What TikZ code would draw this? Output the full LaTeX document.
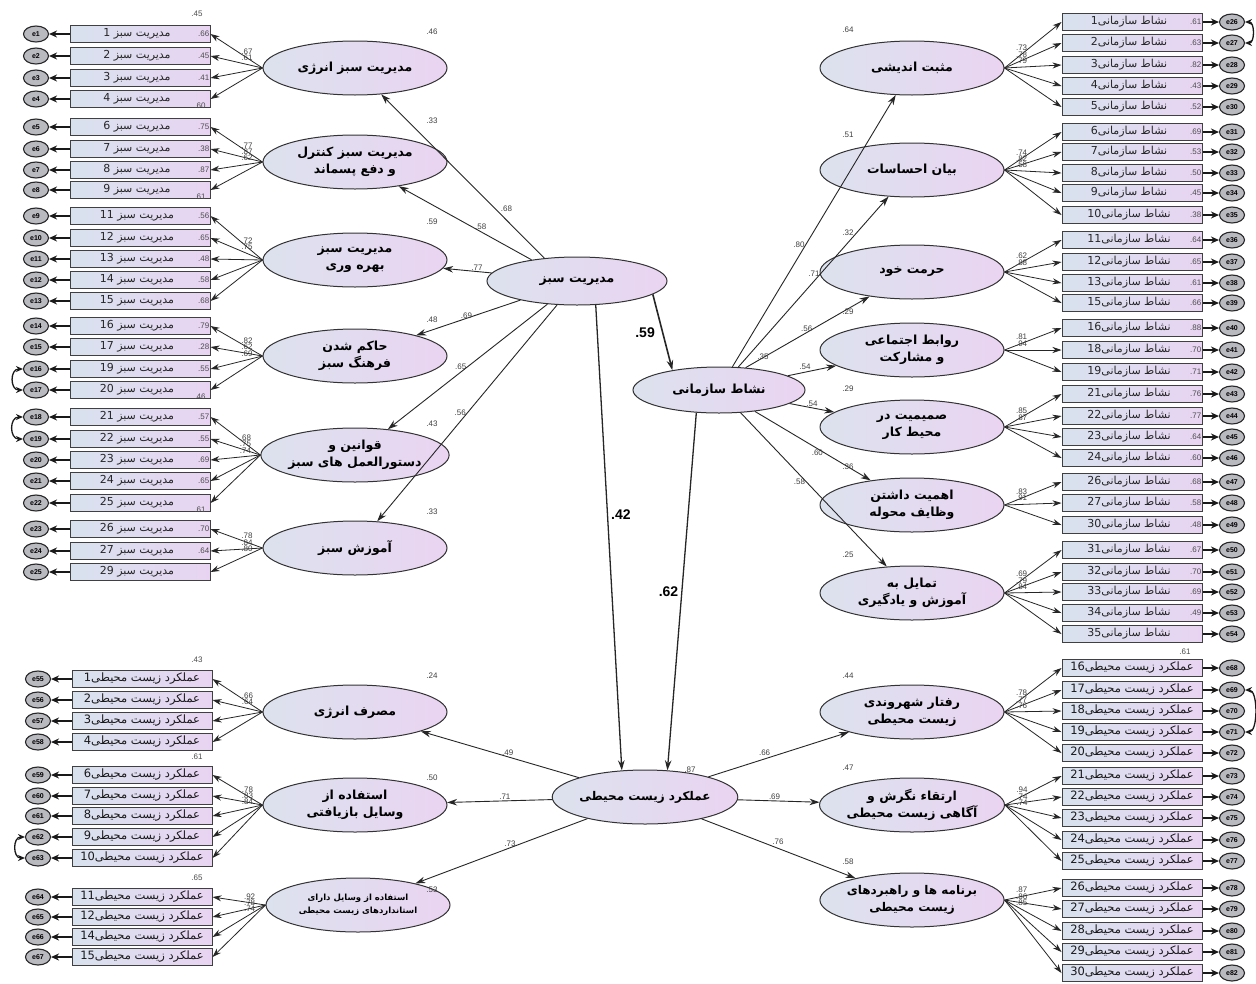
\documentclass[tikz,border=0pt]{standalone}
\usepackage{fontspec}
\setmainfont{Liberation Sans}
\newfontfamily\fa[Script=Arabic]{DejaVu Sans}
\TeXXeTstate=1
\usetikzlibrary{arrows.meta,shapes.geometric}
\definecolor{latL}{RGB}{220,226,238}
\definecolor{latR}{RGB}{234,212,242}
\definecolor{obsL}{RGB}{216,226,238}
\definecolor{obsR}{RGB}{232,212,242}
\definecolor{errF}{RGB}{185,185,192}
\tikzset{
  lat/.style={ellipse, draw=black!80, line width=1pt, left color=latL, right color=latR,
    minimum width=184, minimum height=54, inner sep=0pt, align=center,
    font=\fa\bfseries\fontsize{12.5}{17}\selectfont},
  obs/.style={rectangle, draw=black!75, line width=1pt, left color=obsL, right color=obsR,
    minimum width=140, minimum height=17, inner sep=0pt},
  boxtxt/.style={inner sep=0pt, font=\fa\fontsize{11}{11}\selectfont, text=black!85},
  boxtxtb/.style={inner sep=0pt, font=\fa\fontsize{11.5}{12}\selectfont, text=black!90},
  err/.style={ellipse, draw=black!85, line width=1.1pt, fill=errF, minimum width=25,
    minimum height=16, inner sep=0pt, font=\bfseries\fontsize{7}{7}\selectfont},
  larr/.style={draw=black!85, line width=0.8pt, -{Stealth[length=9pt,width=6pt]}},
  sarr/.style={draw=black!85, line width=0.9pt, -{Stealth[length=10pt,width=6.5pt]}},
  earr/.style={draw=black!90, line width=1.3pt, -{Stealth[length=8pt,width=7pt]}},
  carr/.style={draw=black!90, line width=1.3pt, {Stealth[length=7pt,width=6pt]}-{Stealth[length=7pt,width=6pt]}},
  val/.style={inner sep=1pt, font=\fontsize{8}{9}\selectfont, text=black!70},
  num/.style={inner sep=1pt, font=\fontsize{8}{9}\selectfont, text=black!75},
  big/.style={inner sep=1pt, font=\bfseries\fontsize{14}{15}\selectfont},
}
% left fan: latent, box x, box text (uses \nn), list n/y/value/err/loading
\newcommand\fanL[4]{%
  \foreach \nn/\yy/\vv/\ee/\ll in {#4}{%
    \node[obs] (#1b\nn) at (#2,\yy) {};
    \node[boxtxt] at ([xshift=-3pt]#1b\nn.center) {\fa #3};
    \node[val,anchor=east] at (#1b\nn.east) {\vv};
    \node[err] (#1e\nn) at (36,\yy) {e\ee};
    \draw[earr] (#1b\nn) -- (#1e\nn);
    \draw[larr] (#1.west) -- node[num,pos=0.3,above,yshift=2pt] {\ll} (#1b\nn.east);
  }}
\newcommand\fanR[4]{%
  \foreach \nn/\yy/\vv/\ee/\ll in {#4}{%
    \node[obs] (#1b\nn) at (#2,\yy) {};
    \node[boxtxt] at ([xshift=-3pt]#1b\nn.center) {\fa #3};
    \node[val,anchor=east] at (#1b\nn.east) {\vv};
    \node[err] (#1e\nn) at (1232,\yy) {e\ee};
    \draw[earr] (#1b\nn) -- (#1e\nn);
    \draw[larr] (#1.east) -- node[num,pos=0.3,above,yshift=2pt] {\ll} (#1b\nn.west);
  }}
\newcommand\fanLb[4]{%
  \foreach \nn/\yy/\ee/\ll in {#4}{%
    \node[obs] (#1b\nn) at (#2,\yy) {};
    \node[boxtxtb] at (#1b\nn.center) {\fa #3};
    \node[err] (#1e\nn) at (38,\yy) {e\ee};
    \draw[earr] (#1b\nn) -- (#1e\nn);
    \draw[larr] (#1.west) -- node[num,pos=0.3,above,yshift=2pt] {\ll} (#1b\nn.east);
  }}
\newcommand\fanRb[4]{%
  \foreach \nn/\yy/\ee/\ll in {#4}{%
    \node[obs] (#1b\nn) at (#2,\yy) {};
    \node[boxtxtb] at (#1b\nn.center) {\fa #3};
    \node[err] (#1e\nn) at (1232,\yy) {e\ee};
    \draw[earr] (#1b\nn) -- (#1e\nn);
    \draw[larr] (#1.east) -- node[num,pos=0.3,above,yshift=2pt] {\ll} (#1b\nn.west);
  }}
\begin{document}
\begin{tikzpicture}[x=1pt,y=-1pt]
\useasboundingbox (0,0) rectangle (1256,983);
\fill[white] (0,0) rectangle (1256,983);

% ---------- latent variables ----------
\node[lat, minimum width=180, minimum height=48] (ms) at (577,281) {\beginR مدیریت سبز\endR};
\node[lat, minimum width=172, minimum height=46] (ns) at (719,390) {\beginR نشاط سازمانی\endR};
\node[lat, minimum width=180, minimum height=54, font=\fa\bfseries\fontsize{12}{17}\selectfont] (ak) at (645,797) {\beginR عملکرد زیست محیطی\endR};

\node[lat] (g1) at (355,68) {\beginR مدیریت سبز انرژی\endR};
\node[lat] (g2) at (355,162) {\beginR مدیریت سبز کنترل\endR\\\beginR و دفع پسماند\endR};
\node[lat] (g3) at (355,260) {\beginR مدیریت سبز\endR\\\beginR بهره وری\endR};
\node[lat] (g4) at (355,356) {\beginR حاکم شدن\endR\\\beginR فرهنگ سبز\endR};
\node[lat] (g5) at (355,455) {\beginR قوانین و\endR\\\beginR دستورالعمل های سبز\endR};
\node[lat] (g6) at (355,548) {\beginR آموزش سبز\endR};

\node[lat] (r1) at (912,68) {\beginR مثبت اندیشی\endR};
\node[lat] (r2) at (912,170) {\beginR بیان احساسات\endR};
\node[lat] (r3) at (912,272) {\beginR حرمت خود\endR};
\node[lat] (r4) at (912,350) {\beginR روابط اجتماعی\endR\\\beginR و مشارکت\endR};
\node[lat] (r5) at (912,427) {\beginR صمیمیت در\endR\\\beginR محیط کار\endR};
\node[lat] (r6) at (912,505) {\beginR اهمیت داشتن\endR\\\beginR وظایف محوله\endR};
\node[lat] (r7) at (912,593) {\beginR تمایل به\endR\\\beginR آموزش و یادگیری\endR};

\node[lat] (c1) at (355,712) {\beginR مصرف انرژی\endR};
\node[lat] (c2) at (355,805) {\beginR استفاده از\endR\\\beginR وسایل بازیافتی\endR};
\node[lat, font=\fa\bfseries\fontsize{8.5}{13}\selectfont] (c3) at (358,905) {\beginR استفاده از وسایل دارای\endR\\\beginR استانداردهای زیست محیطی\endR};

\node[lat] (b1) at (912,712) {\beginR رفتار شهروندی\endR\\\beginR زیست محیطی\endR};
\node[lat] (b2) at (912,805) {\beginR ارتقاء نگرش و\endR\\\beginR آگاهی زیست محیطی\endR};
\node[lat, font=\fa\bfseries\fontsize{12}{17}\selectfont] (b3) at (912,900) {\beginR برنامه ها و راهبردهای\endR\\\beginR زیست محیطی\endR};

% ---------- indicators ----------
\fanL{g1}{140}{\beginR مدیریت سبز \beginL\nn\endL\endR}{1/34/.66/1/.67, 2/56/.45/2/.61, 3/78/.41/3/{}, 4/99/{}/4/{}}
\fanL{g2}{140}{\beginR مدیریت سبز \beginL\nn\endL\endR}{6/127/.75/5/.77, 7/149/.38/6/.87, 8/170/.87/7/.62, 9/190/{}/8/{}}
\fanL{g3}{140}{\beginR مدیریت سبز \beginL\nn\endL\endR}{11/216/.56/9/.72, 12/238/.65/10/.75, 13/259/.48/11/{}, 14/280/.58/12/{}, 15/301/.68/13/{}}
\fanL{g4}{140}{\beginR مدیریت سبز \beginL\nn\endL\endR}{16/326/.79/14/.82, 17/347/.28/15/.62, 19/369/.55/16/.69, 20/390/{}/17/{}}
\fanL{g5}{140}{\beginR مدیریت سبز \beginL\nn\endL\endR}{21/417/.57/18/.68, 22/439/.55/19/.75, 23/460/.69/20/.74, 24/481/.65/21/{}, 25/503/{}/22/{}}
\fanL{g6}{140}{\beginR مدیریت سبز \beginL\nn\endL\endR}{26/529/.70/23/.78, 27/551/.64/24/.84, 29/572/{}/25/.80}

\fanR{r1}{1132}{\beginR نشاط سازمانی\beginL\nn\endL\endR}{1/22/.61/26/.73, 2/43/.63/27/.78, 3/65/.82/28/.79, 4/86/.43/29/{}, 5/107/.52/30/{}}
\fanR{r2}{1132}{\beginR نشاط سازمانی\beginL\nn\endL\endR}{6/132/.69/31/.74, 7/152/.53/32/.82, 8/173/.50/33/.58, 9/193/.45/34/{}, 10/215/.38/35/{}}
\fanR{r3}{1132}{\beginR نشاط سازمانی\beginL\nn\endL\endR}{11/240/.64/36/.62, 12/262/.65/37/.88, 13/283/.61/38/{}, 15/303/.66/39/{}}
\fanR{r4}{1132}{\beginR نشاط سازمانی\beginL\nn\endL\endR}{16/328/.88/40/.81, 18/350/.70/41/.94, 19/372/.71/42/{}}
\fanR{r5}{1132}{\beginR نشاط سازمانی\beginL\nn\endL\endR}{21/394/.76/43/.85, 22/416/.77/44/.87, 23/437/.64/45/{}, 24/458/.60/46/{}}
\fanR{r6}{1132}{\beginR نشاط سازمانی\beginL\nn\endL\endR}{26/482/.68/47/.83, 27/503/.58/48/.91, 30/525/.48/49/{}}
\fanR{r7}{1132}{\beginR نشاط سازمانی\beginL\nn\endL\endR}{31/550/.67/50/.69, 32/572/.70/51/.79, 33/592/.69/52/.84, 34/613/.49/53/{}, 35/634/{}/54/{}}

\fanLb{c1}{142}{\beginR عملکرد زیست محیطی\beginL\nn\endL\endR}{1/679/55/.66, 2/700/56/.64, 3/721/57/{}, 4/742/58/{}}
\fanLb{c2}{142}{\beginR عملکرد زیست محیطی\beginL\nn\endL\endR}{6/775/59/.78, 7/796/60/.83, 8/816/61/.84, 9/837/62/{}, 10/858/63/{}}
\fanLb{c3}{142}{\beginR عملکرد زیست محیطی\beginL\nn\endL\endR}{11/897/64/.92, 12/917/65/.78, 14/937/66/.74, 15/957/67/{}}

\fanRb{b1}{1132}{\beginR عملکرد زیست محیطی\beginL\nn\endL\endR}{16/668/68/.78, 17/690/69/.77, 18/711/70/.76, 19/732/71/{}, 20/753/72/{}}
\fanRb{b2}{1132}{\beginR عملکرد زیست محیطی\beginL\nn\endL\endR}{21/776/73/.94, 22/797/74/.74, 23/818/75/.74, 24/840/76/{}, 25/861/77/{}}
\fanRb{b3}{1132}{\beginR عملکرد زیست محیطی\beginL\nn\endL\endR}{26/888/78/.87, 27/909/79/.86, 28/931/80/.85, 29/952/81/{}, 30/973/82/{}}

% stray squared correlations of indicators
\node[val] at (197,14) {.45};
\node[val] at (200,106) {.60};
\node[val] at (200,197) {.61};
\node[val] at (200,397) {.46};
\node[val] at (200,510) {.61};
\node[val] at (197,660) {.43};
\node[val] at (197,757) {.61};
\node[val] at (197,878) {.65};
\node[val] at (1185,652) {.61};

% ---------- covariances between errors ----------
\draw[carr] (g4e19.west) to[out=180,in=180,looseness=1.6] (g4e20.west);
\draw[carr] (g5e21.west) to[out=180,in=180,looseness=1.6] (g5e22.west);
\draw[carr] (c2e9.west) to[out=180,in=180,looseness=1.5] (c2e10.west);
\draw[carr] (r1e1.east) to[out=0,in=0,looseness=1.2] (r1e2.east);
\draw[carr] (b1e17.east) to[out=0,in=0,looseness=0.8] (b1e19.east);

% ---------- structural paths ----------
\draw[sarr] (ms.145) -- node[num,pos=0.3,right,xshift=4pt] {.68} (g1);
\draw[sarr] (ms.155) -- node[num,pos=0.45,right,xshift=2pt] {.58} (g2);
\draw[sarr] (ms) -- node[num,pos=0.3,above] {.77} (g3);
\draw[sarr] (ms) -- node[num,pos=0.45,left] {.69} (g4);
\draw[sarr] (ms) -- node[num,pos=0.5,left] {.65} (g5);
\draw[sarr] (ms) -- node[num,pos=0.5,left] {.56} (g6);

\draw[sarr, line width=1.6pt] (ms.-10) -- node[big,left,xshift=-6pt] {.59} (ns.157);
\draw[sarr, line width=1.3pt] (ms.-52) -- node[big,pos=0.45,right,xshift=2pt] {.42} (ak.131);
\draw[sarr, line width=1.3pt] (ns.225) -- node[big,pos=0.5,left,xshift=-2pt] {.62} (ak.50);

\draw[sarr] (ns.60) -- node[num,pos=0.45,left] {.80} (r1);
\draw[sarr] (ns.50) -- node[num,pos=0.55,left] {.71} (r2);
\draw[sarr] (ns.40) -- node[num,pos=0.55,left] {.56} (r3);
\draw[sarr] (ns) -- node[num,pos=0.5,above left] {.54} (r4);
\draw[sarr] (ns) -- node[num,pos=0.5,above] {.54} (r5);
\draw[sarr] (ns) -- node[num,pos=0.6,left] {.60} (r6);
\draw[sarr] (ns) -- node[num,pos=0.45,left] {.58} (r7);

\draw[sarr] (ak) -- node[num,pos=0.45,above] {.49} (c1);
\draw[sarr] (ak) -- node[num,pos=0.45,above] {.71} (c2);
\draw[sarr] (ak) -- node[num,pos=0.45,above] {.73} (c3);
\draw[sarr] (ak) -- node[num,pos=0.45,above left] {.66} (b1);
\draw[sarr] (ak) -- node[num,pos=0.45,above] {.69} (b2);
\draw[sarr] (ak) -- node[num,pos=0.45,above right] {.76} (b3);

% ---------- squared multiple correlations of latents ----------
\node[num] at (432,32) {.46};
\node[num] at (432,121) {.33};
\node[num] at (432,222) {.59};
\node[num] at (432,320) {.48};
\node[num] at (432,424) {.43};
\node[num] at (432,512) {.33};
\node[num] at (432,676) {.24};
\node[num] at (432,778) {.50};
\node[num] at (432,890) {.53};
\node[num] at (848,30) {.64};
\node[num] at (848,135) {.51};
\node[num] at (848,233) {.32};
\node[num] at (848,312) {.29};
\node[num] at (848,389) {.29};
\node[num] at (848,467) {.36};
\node[num] at (848,555) {.25};
\node[num] at (848,676) {.44};
\node[num] at (848,768) {.47};
\node[num] at (848,862) {.58};
\node[num] at (763,357) {.35};
\node[num] at (690,770) {.87};
\end{tikzpicture}
\end{document}
